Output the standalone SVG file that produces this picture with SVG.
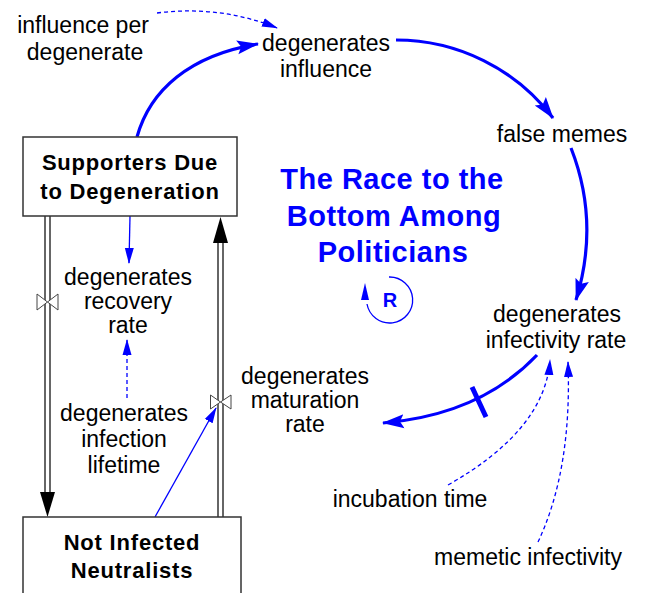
<svg xmlns="http://www.w3.org/2000/svg" width="647" height="593" viewBox="0 0 647 593">
<style>
.t{font-family:"Liberation Sans",Arial,sans-serif;font-size:23px;fill:#000;text-anchor:middle}
.s{font-family:"Liberation Sans",Arial,sans-serif;font-size:22px;font-weight:bold;fill:#000;text-anchor:middle;letter-spacing:0.8px}
.ti{font-family:"Liberation Sans",Arial,sans-serif;font-size:29px;font-weight:bold;fill:#0000ff;text-anchor:middle;letter-spacing:0.5px}
.box{fill:#fff;stroke:#333;stroke-width:1.5}
.thick{fill:none;stroke:#0000ff;stroke-width:3.2}
.thin{fill:none;stroke:#0000ff;stroke-width:1.3}
.dash{fill:none;stroke:#0000ff;stroke-width:1.3;stroke-dasharray:4 3}
.pipeo{stroke:#333;stroke-width:6.5;fill:none}
.pipei{stroke:#fff;stroke-width:3.5;fill:none}
.valve{fill:#fff;stroke:#444;stroke-width:1}
</style>
<defs>
<marker id="big" markerUnits="userSpaceOnUse" markerWidth="24" markerHeight="16" refX="21" refY="8" orient="auto">
<path d="M0,1 L22,8 L0,15 L4,8 z" fill="#0000ff"/>
</marker>
<marker id="sm" markerUnits="userSpaceOnUse" markerWidth="16" markerHeight="10" refX="15" refY="5" orient="auto">
<path d="M0,0.5 L16,5 L0,9.5 z" fill="#0000ff"/>
</marker>
</defs>

<g id="connectors">
<!-- flow pipes -->
<line class="pipeo" x1="47.5" y1="216" x2="47.5" y2="494"/>
<line class="pipei" x1="47.5" y1="216" x2="47.5" y2="496"/>
<polygon points="40,492 55,492 47.5,517" fill="#000"/>
<line class="pipeo" x1="220.5" y1="517" x2="220.5" y2="241"/>
<line class="pipei" x1="220.5" y1="518" x2="220.5" y2="239"/>
<polygon points="213,243 228,243 220.5,217" fill="#000"/>
<!-- valves -->
<polygon class="valve" points="37,294 47.5,302 37,310"/>
<polygon class="valve" points="58,294 47.5,302 58,310"/>
<polygon class="valve" points="210.5,395 220.5,402 210.5,409"/>
<polygon class="valve" points="231,395 220.5,402 231,409"/>
<!-- main loop -->
<path class="thick" d="M137 137 C150 90 190 55 258 44" marker-end="url(#big)"/>
<path class="thick" d="M396 40 A197 197 0 0 1 553 118" marker-end="url(#big)"/>
<path class="thick" d="M571 148 Q600 222 576 300" marker-end="url(#big)"/>
<path class="thick" d="M537 355 Q480 415 383 423" marker-end="url(#big)"/>
<line x1="472" y1="387" x2="486" y2="417" stroke="#0000ff" stroke-width="5"/>
<!-- thin links -->
<path class="dash" d="M157 13 Q220 5 277 28" marker-end="url(#sm)"/>
<path class="thin" d="M130 216 L129 263" marker-end="url(#sm)"/>
<path class="dash" d="M127 398 L127 340" marker-end="url(#sm)"/>
<path class="thin" d="M155 517 L216 408" marker-end="url(#sm)"/>
<path class="dash" d="M448 485 Q545 430 550 360" marker-end="url(#sm)"/>
<path class="dash" d="M538 542 Q572 470 568 362" marker-end="url(#sm)"/>
<!-- R loop -->
<path class="thin" d="M389 277 A23 23 0 1 1 367 304" stroke-width="1"/>
<polygon points="365,283 361,300 369,300" fill="#0000ff"/>
</g>

<g id="supporters">
<rect class="box" x="23" y="137" width="214" height="79"/>
<text class="s" x="130" y="170">Supporters Due</text>
<text class="s" x="130" y="199">to Degeneration</text>
</g>
<g id="neutralists">
<rect class="box" x="23" y="517" width="218" height="100"/>
<text class="s" x="132" y="550">Not Infected</text>
<text class="s" x="132" y="578">Neutralists</text>
</g>
<g id="influence-per-degenerate">
<text class="t" x="83" y="33">influence per</text>
<text class="t" x="85" y="60">degenerate</text>
</g>
<g id="degenerates-influence">
<text class="t" x="326" y="51">degenerates</text>
<text class="t" x="326" y="77">influence</text>
</g>
<g id="false-memes">
<text class="t" x="562" y="142">false memes</text>
</g>
<g id="degenerates-infectivity-rate">
<text class="t" x="557" y="322">degenerates</text>
<text class="t" x="556" y="348">infectivity rate</text>
</g>
<g id="degenerates-recovery-rate">
<text class="t" x="128" y="285">degenerates</text>
<text class="t" x="128" y="309">recovery</text>
<text class="t" x="128" y="333">rate</text>
</g>
<g id="degenerates-infection-lifetime">
<text class="t" x="124" y="421">degenerates</text>
<text class="t" x="124" y="447">infection</text>
<text class="t" x="124" y="473">lifetime</text>
</g>
<g id="degenerates-maturation-rate">
<text class="t" x="305" y="384">degenerates</text>
<text class="t" x="305" y="408">maturation</text>
<text class="t" x="305" y="432">rate</text>
</g>
<g id="incubation-time">
<text class="t" x="410" y="507">incubation time</text>
</g>
<g id="memetic-infectivity">
<text class="t" x="528" y="565">memetic infectivity</text>
</g>
<g id="title">
<text class="ti" x="392" y="189">The Race to the</text>
<text class="ti" x="394" y="226">Bottom Among</text>
<text class="ti" x="393" y="262">Politicians</text>
</g>
<g id="loop-R">
<text x="390" y="307" style="font-family:'Liberation Sans',Arial,sans-serif;font-size:20px;font-weight:bold;fill:#0000ff;text-anchor:middle">R</text>
</g>
</svg>
